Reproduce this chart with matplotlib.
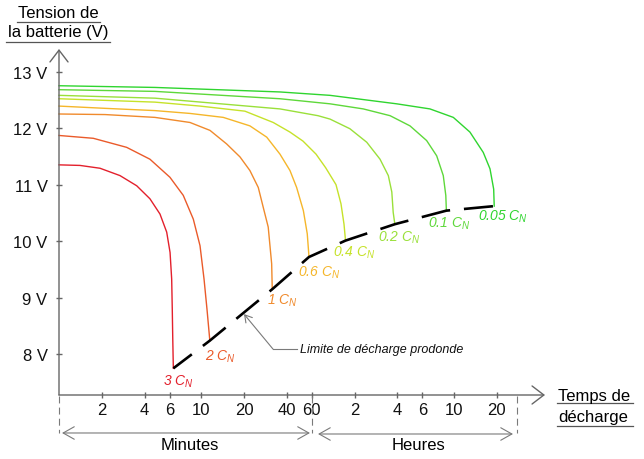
import matplotlib
matplotlib.use('Agg')
import matplotlib.pyplot as plt
from matplotlib.lines import Line2D
from matplotlib.ticker import NullLocator, FixedLocator

plt.rcParams['font.family'] = ['Liberation Sans', 'DejaVu Sans']
plt.rcParams['mathtext.fontset'] = 'custom'
plt.rcParams['mathtext.rm'] = 'Liberation Sans'
plt.rcParams['mathtext.it'] = 'Liberation Sans:italic'
plt.rcParams['lines.scale_dashes'] = False

# ---------------- data (time in minutes, voltage in V) ----------------
rates = ['3', '2', '1', '0.6', '0.4', '0.2', '0.1', '0.05']

t_3C = [1, 1.405, 1.943, 2.685, 3.52, 4.36, 5.13, 5.72, 6.04, 6.20, 6.26, 6.31, 6.37]
v_3C = [11.35, 11.34, 11.29, 11.16, 10.98, 10.75, 10.48, 10.16, 9.80, 9.33, 8.80, 8.27, 7.75]

t_2C = [1, 1.743, 2.99, 4.36, 6.03, 7.48, 8.80, 9.81, 10.47, 10.98, 11.5]
v_2C = [11.87, 11.82, 11.66, 11.45, 11.13, 10.81, 10.39, 9.92, 9.33, 8.80, 8.24]

t_1C = [1, 2.11, 4.73, 8.34, 11.53, 15.1, 18.75, 22.0, 25.2, 27.3, 29.6, 31.3, 31.6]
v_1C = [12.25, 12.24, 12.19, 12.10, 11.96, 11.72, 11.49, 11.25, 10.95, 10.60, 10.25, 9.60, 9.15]

t_06C = [1, 2.11, 4.73, 8.34, 14.3, 22.0, 28.9, 35.8, 42.1, 46.9, 52.3, 55.7, 57.3]
v_06C = [12.39, 12.35, 12.31, 12.26, 12.19, 12.04, 11.84, 11.54, 11.25, 10.95, 10.54, 10.13, 9.72]

t_04C = [1, 4.73, 9.81, 20.3, 32.1, 42.1, 52.0, 64.2, 75.0, 88.7, 96.2, 101, 103.5]
v_04C = [12.52, 12.46, 12.39, 12.30, 12.10, 11.93, 11.77, 11.54, 11.30, 11.00, 10.66, 10.30, 10.01]

t_02C = [1, 4.73, 35.8, 66.3, 80.5, 111, 146, 181, 207, 219, 224, 230]
v_02C = [12.58, 12.53, 12.34, 12.22, 12.16, 11.99, 11.75, 11.45, 11.16, 10.87, 10.51, 10.30]

t_01C = [1, 4.73, 35.8, 80.5, 138, 213, 294, 385, 453, 504, 525, 530]
v_01C = [12.68, 12.65, 12.52, 12.43, 12.34, 12.22, 12.04, 11.78, 11.51, 11.16, 10.81, 10.54]

t_005C = [1, 4.73, 35.8, 80.5, 237, 406, 593, 776, 963, 1074, 1140, 1150]
v_005C = [12.75, 12.72, 12.64, 12.58, 12.43, 12.34, 12.19, 11.93, 11.57, 11.28, 10.92, 10.62]

times = [t_3C, t_2C, t_1C, t_06C, t_04C, t_02C, t_01C, t_005C]
volts = [v_3C, v_2C, v_1C, v_06C, v_04C, v_02C, v_01C, v_005C]

x_ticks = [2, 4, 6, 10, 20, 40, 60, 120, 240, 360, 600, 1200]
x_tick_labels = ['2', '4', '6', '10', '20', '40', '60', '2', '4', '6', '10', '20']
y_ticks = [8, 9, 10, 11, 12, 13]
y_tick_labels = ['8 V', '9 V', '10 V', '11 V', '12 V', '13 V']

# ---------------- style ----------------
colors = ['#e3202c', '#ea5a2a', '#f08a2c', '#f5b62a', '#c6e22a', '#9ae03a', '#5ed83a', '#2fd52f']
label_offsets = [(-10, -12), (-5, -15), (-5, -11), (-11, -15), (-13, -11), (-17, -13), (-18, -12), (-16, -10)]
axis_col = '#666666'
grey = '#7a7a7a'

W, H = 644, 460
X0, X1, Y0, Y1 = 59, 545, 396, 50
fig = plt.figure(figsize=(W / 100, H / 100), dpi=100)
ax = fig.add_axes([X0 / W, 1 - Y0 / H, (X1 - X0) / W, (Y0 - Y1) / H])
ax.set_xscale('log')
ax.set_xlim(1, 2617)
ax.set_ylim(7.278, 13.40)
for s in ax.spines.values():
    s.set_visible(False)
ax.patch.set_alpha(0)

# axes with open arrow heads
ax.annotate('', xy=(0, 1), xytext=(0, 0), xycoords='axes fraction',
            arrowprops=dict(arrowstyle='->,head_length=0.85,head_width=0.65',
                            color=axis_col, lw=1, shrinkA=0, shrinkB=0),
            annotation_clip=False)
ax.annotate('', xy=(1, 0), xytext=(0, 0), xycoords='axes fraction',
            arrowprops=dict(arrowstyle='->,head_length=0.85,head_width=0.65',
                            color=axis_col, lw=1, shrinkA=0, shrinkB=0),
            annotation_clip=False)

ax.xaxis.set_major_locator(FixedLocator(x_ticks))
ax.xaxis.set_minor_locator(NullLocator())
ax.set_xticklabels(x_tick_labels)
ax.yaxis.set_major_locator(FixedLocator(y_ticks))
ax.set_yticklabels(y_tick_labels)
ax.tick_params(axis='both', direction='inout', length=4.5, width=1, color=axis_col,
               labelsize=12, labelcolor='#111111')
ax.tick_params(axis='x', pad=3)
ax.tick_params(axis='y', pad=6)

# discharge curves
for t, v, c in zip(times, volts, colors):
    ax.plot(t, v, color=c, lw=1.0, clip_on=False, solid_joinstyle='round')

# deep discharge limit through curve ends
limit_t = [t[-1] for t in times]
limit_v = [v[-1] for v in volts]
ax.plot(limit_t, limit_v, color='black', lw=1.9, linestyle=(4.3, (21, 10)),
        dash_capstyle='butt', clip_on=False)

# rate labels
for r, t, v, c, off in zip(rates, times, volts, colors, label_offsets):
    ax.annotate(r + ' $C_N$', xy=(t[-1], v[-1]), xytext=off, textcoords='offset pixels',
                ha='left', va='center', fontsize=10, style='italic', color=c)

# annotation of limit
ax.plot([32.0, 47.5], [8.09, 8.09], color=grey, lw=0.8)
ax.annotate('', xy=(20.0, 8.71), xytext=(32.0, 8.09),
            arrowprops=dict(arrowstyle='->,head_length=0.5,head_width=0.3',
                            color=grey, lw=0.8, shrinkA=0, shrinkB=0))
ax.text(49.5, 8.09, 'Limite de décharge prodonde', style='italic', fontsize=9,
        va='center', ha='left', color='#111111')

# minutes / hours brackets
trans = ax.get_xaxis_transform()
for xv in [1, 60, 1663]:
    ax.plot([xv, xv], [-0.003, -0.11], transform=trans, clip_on=False,
            color=grey, lw=0.8, linestyle=(0, (5, 3)))
ax.annotate('', xy=(1.05, -0.1098), xytext=(58.2, -0.1098), xycoords=trans,
            arrowprops=dict(arrowstyle='<->,head_length=0.8,head_width=0.45',
                            color=grey, lw=0.8, shrinkA=0, shrinkB=0),
            annotation_clip=False)
ax.annotate('', xy=(66.3, -0.1127), xytext=(1559, -0.1127), xycoords=trans,
            arrowprops=dict(arrowstyle='<->,head_length=0.8,head_width=0.45',
                            color=grey, lw=0.8, shrinkA=0, shrinkB=0),
            annotation_clip=False)
ax.text(8.34, -0.1445, 'Minutes', transform=trans, ha='center', va='center', fontsize=12)
ax.text(340, -0.1445, 'Heures', transform=trans, ha='center', va='center', fontsize=12)

# axis titles with underline
def px(x, y):
    return x / W, 1 - y / H

fig.text(*px(58.5, 13), 'Tension de', ha='center', va='center', fontsize=12)
fig.text(*px(58.5, 33), 'la batterie (V)', ha='center', va='center', fontsize=12)
fig.text(*px(558, 397), 'Temps de', ha='left', va='center', fontsize=12)
fig.text(*px(558, 418), 'décharge', ha='left', va='center', fontsize=12)
for (xa, xb, yy) in [(17, 100, 23), (6, 110, 43), (557, 633, 404), (557, 633, 427)]:
    (fa, fy), (fb, _) = px(xa, yy), px(xb, yy)
    fig.add_artist(Line2D([fa, fb], [fy, fy], color='#555555', lw=0.9))

fig.savefig('out.png', dpi=100)
